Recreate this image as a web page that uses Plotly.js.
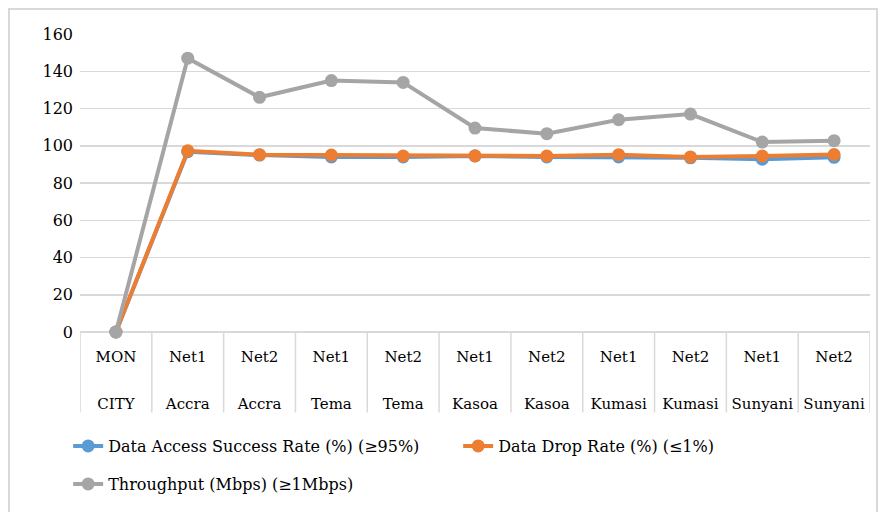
<!DOCTYPE html>
<html>
<head>
<meta charset="utf-8">
<script src="https://cdn.plot.ly/plotly-3.0.1.min.js"></script>
<style>
html,body{margin:0;padding:0;background:#fff;}
#frame{position:absolute;left:8px;top:8px;width:870px;height:520px;border:2px solid #d9d9d9;box-sizing:border-box;}
#chart{position:absolute;left:0;top:0;width:885px;height:512px;}
</style>
</head>
<body>
<div id="frame"></div>
<div id="chart"></div>
<script>
var topLabels = ["MON","Net1","Net2","Net1","Net2","Net1","Net2","Net1","Net2","Net1","Net2"];
var bottomLabels = ["CITY","Accra","Accra","Tema","Tema","Kasoa","Kasoa","Kumasi","Kumasi","Sunyani","Sunyani"];
var accessRate = [0, 96.8, 95.0, 94.0, 94.0, 94.5, 94.0, 94.0, 93.5, 92.8, 93.8];
var dropRate = [0, 97.3, 95.2, 95.0, 94.5, 94.6, 94.5, 95.2, 94.0, 94.5, 95.3];
var throughput = [0, 147, 126, 135, 134, 109.5, 106.5, 114, 117, 102, 102.7];
var seriesNames = ["Data Access Success Rate (%) (≥95%)", "Data Drop Rate (%) (≤1%)", "Throughput (Mbps) (≥1Mbps)"];
var seriesColors = ["#5B9BD5", "#ED7D31", "#A5A5A5"];
var seriesLegends = ["legend", "legend", "legend2"];
var seriesValues = [accessRate, dropRate, throughput];

var xs = topLabels.map(function(_, i){ return i; });

var traces = seriesValues.map(function(vals, k){
  return {
    x: xs, y: vals, type: "scatter", mode: "lines+markers",
    name: seriesNames[k], legend: seriesLegends[k],
    line: {color: seriesColors[k], width: 4},
    marker: {color: seriesColors[k], size: 13},
    cliponaxis: false
  };
});
// invisible carrier so the second category row (city names) is drawn
traces.unshift({x: xs, y: accessRate, xaxis: "x2", yaxis: "y", type: "scatter", mode: "none",
  showlegend: false, hoverinfo: "skip"});

var shapes = [];
for (var i = 0; i <= topLabels.length; i++) {
  shapes.push({type: "line", xref: "x", yref: "paper", x0: i - 0.5, x1: i - 0.5, y0: 0, y1: -0.27,
    line: {color: "#d9d9d9", width: 1.5}, layer: "below"});
}

var FONT = "DejaVu Serif";
var legendBase = {
  orientation: "h", x: -0.015, xanchor: "left", yanchor: "middle",
  entrywidth: 345, entrywidthmode: "pixels",
  font: {family: FONT, size: 16, color: "#000"}, bgcolor: "rgba(0,0,0,0)", traceorder: "normal"
};
var legend1 = Object.assign({}, legendBase, {y: -0.378});
var legend2 = Object.assign({}, legendBase, {y: -0.505});

var xBase = {
  range: [-0.5, topLabels.length - 0.5],
  tickmode: "array", tickvals: xs,
  showgrid: false, zeroline: false, showline: false, ticks: "",
  tickfont: {family: FONT, size: 15, color: "#000"}, automargin: false
};

var layout = {
  width: 885, height: 512,
  margin: {l: 80, r: 15, t: 34, b: 179},
  paper_bgcolor: "rgba(0,0,0,0)", plot_bgcolor: "rgba(0,0,0,0)",
  font: {family: FONT, size: 16, color: "#000"},
  showlegend: true,
  xaxis: Object.assign({}, xBase, {ticktext: topLabels, ticklabelstandoff: 14}),
  xaxis2: Object.assign({}, xBase, {ticktext: bottomLabels, ticklabelstandoff: 61,
    overlaying: "x", anchor: "y", side: "bottom"}),
  yaxis: {
    range: [0, 160], dtick: 20, tick0: 0,
    showgrid: true, gridcolor: "#d9d9d9", gridwidth: 1.5,
    zeroline: true, zerolinecolor: "#d9d9d9", zerolinewidth: 1.5,
    showline: false, ticks: "", tickfont: {family: FONT, size: 16}, automargin: false,
    ticklabelstandoff: 6
  },
  legend: legend1,
  legend2: legend2,
  shapes: shapes
};

Plotly.newPlot("chart", traces, layout, {displayModeBar: false, staticPlot: true});
</script>
</body>
</html>
